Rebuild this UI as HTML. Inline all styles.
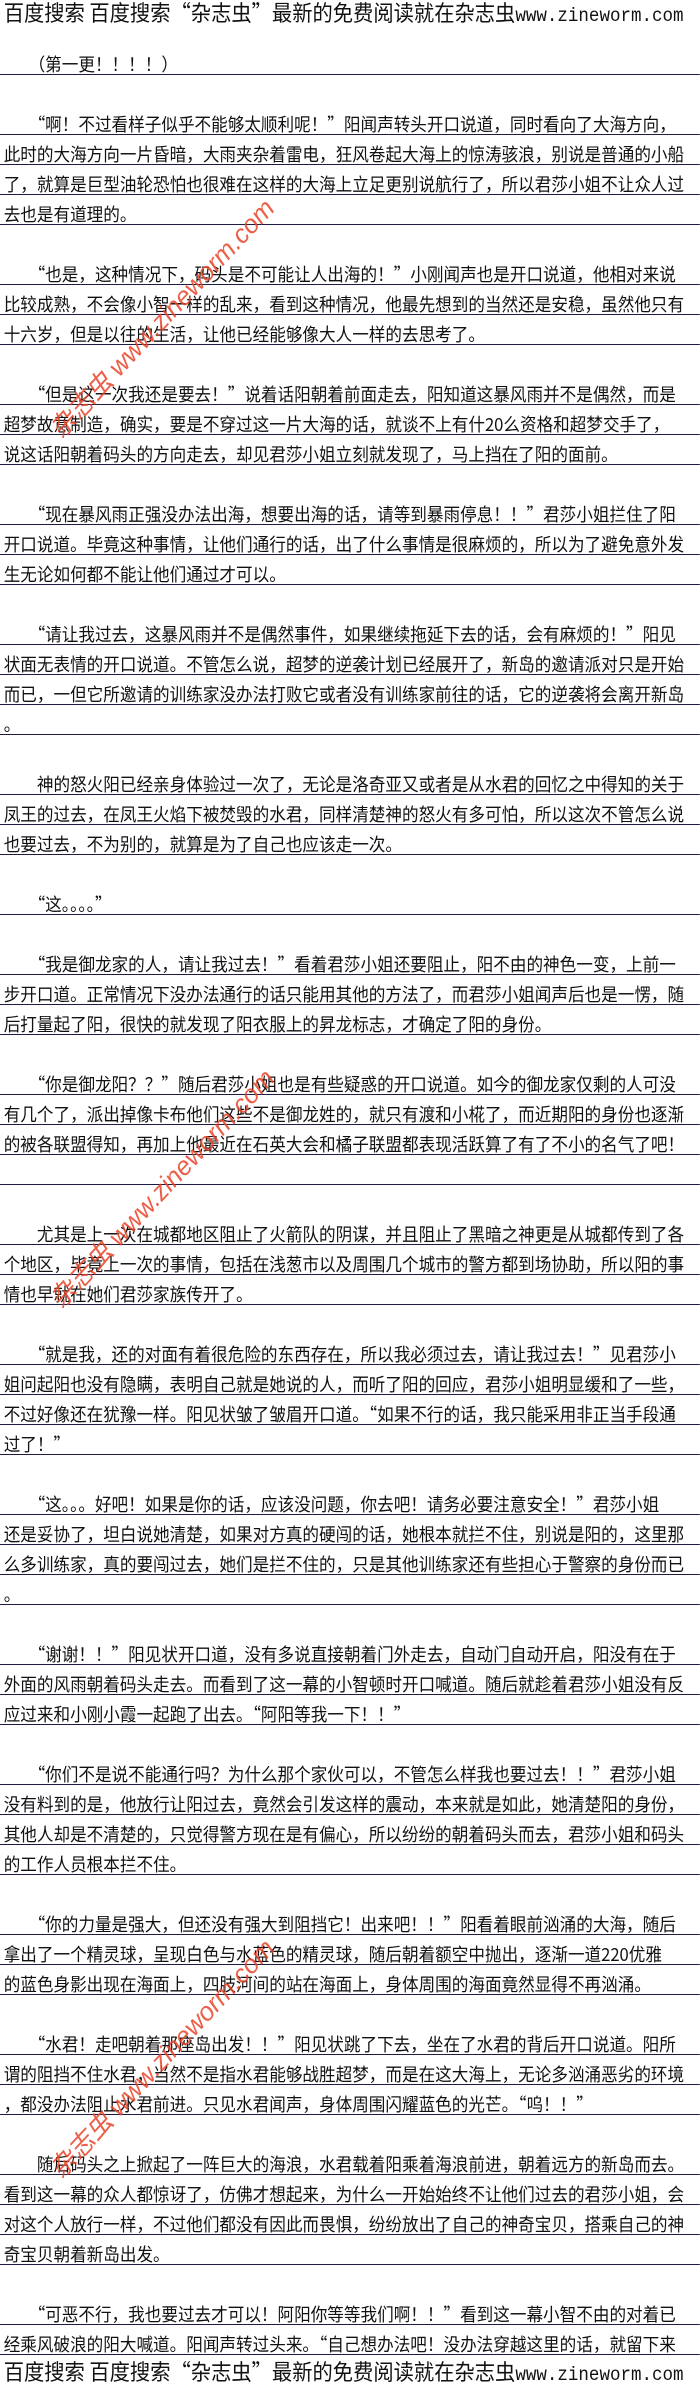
<!DOCTYPE html>
<html><head><meta charset="utf-8">
<style>
html,body{margin:0;padding:0;background:#fff;}
body{width:700px;height:2390px;position:relative;overflow:hidden;font-family:"WenQuanYi Zen Hei","Noto Sans CJK SC",sans-serif;color:#111;}
.wrap{position:absolute;left:0;top:0;width:759px;transform:scaleX(0.922);transform-origin:0 0;}
.hdr{position:absolute;left:4px;top:0;height:24px;font-size:22px;line-height:24px;white-space:nowrap;color:#111;}
.hdr span{font-family:"Liberation Mono",monospace;font-size:19px;}
.body{position:absolute;left:0;top:45px;width:759px;}
.r{height:30px;box-sizing:border-box;border-bottom:1px solid #1c1c44;font-size:18px;line-height:20px;padding-top:9px;padding-left:4px;white-space:nowrap;}
.b{height:30px;}
.ft{top:2359px;}
.wm{position:absolute;color:#e8452a;font-size:26px;font-style:italic;white-space:nowrap;transform:rotate(-47deg);transform-origin:0 0;opacity:.85;font-family:"Liberation Sans","Noto Sans CJK SC",sans-serif;}
</style></head><body>
<div class="wrap">
<div class="hdr">百度搜索 百度搜索“杂志虫”最新的免费阅读就在杂志虫<span>www.zineworm.com</span></div>
<div class="body">
<div class="r">　　（第一更！！！！）</div>
<div class="b"></div>
<div class="r">　　“啊！不过看样子似乎不能够太顺利呢！”阳闻声转头开口说道，同时看向了大海方向，</div>
<div class="r">此时的大海方向一片昏暗，大雨夹杂着雷电，狂风卷起大海上的惊涛骇浪，别说是普通的小船</div>
<div class="r">了，就算是巨型油轮恐怕也很难在这样的大海上立足更别说航行了，所以君莎小姐不让众人过</div>
<div class="r">去也是有道理的。</div>
<div class="b"></div>
<div class="r">　　“也是，这种情况下，码头是不可能让人出海的！”小刚闻声也是开口说道，他相对来说</div>
<div class="r">比较成熟，不会像小智一样的乱来，看到这种情况，他最先想到的当然还是安稳，虽然他只有</div>
<div class="r">十六岁，但是以往的生活，让他已经能够像大人一样的去思考了。</div>
<div class="b"></div>
<div class="r">　　“但是这一次我还是要去！”说着话阳朝着前面走去，阳知道这暴风雨并不是偶然，而是</div>
<div class="r">超梦故意制造，确实，要是不穿过这一片大海的话，就谈不上有什20么资格和超梦交手了，</div>
<div class="r">说这话阳朝着码头的方向走去，却见君莎小姐立刻就发现了，马上挡在了阳的面前。</div>
<div class="b"></div>
<div class="r">　　“现在暴风雨正强没办法出海，想要出海的话，请等到暴雨停息！！”君莎小姐拦住了阳</div>
<div class="r">开口说道。毕竟这种事情，让他们通行的话，出了什么事情是很麻烦的，所以为了避免意外发</div>
<div class="r">生无论如何都不能让他们通过才可以。</div>
<div class="b"></div>
<div class="r">　　“请让我过去，这暴风雨并不是偶然事件，如果继续拖延下去的话，会有麻烦的！”阳见</div>
<div class="r">状面无表情的开口说道。不管怎么说，超梦的逆袭计划已经展开了，新岛的邀请派对只是开始</div>
<div class="r">而已，一但它所邀请的训练家没办法打败它或者没有训练家前往的话，它的逆袭将会离开新岛</div>
<div class="r">。</div>
<div class="b"></div>
<div class="r">　　神的怒火阳已经亲身体验过一次了，无论是洛奇亚又或者是从水君的回忆之中得知的关于</div>
<div class="r">凤王的过去，在凤王火焰下被焚毁的水君，同样清楚神的怒火有多可怕，所以这次不管怎么说</div>
<div class="r">也要过去，不为别的，就算是为了自己也应该走一次。</div>
<div class="b"></div>
<div class="r">　　“这。。。。”</div>
<div class="b"></div>
<div class="r">　　“我是御龙家的人，请让我过去！”看着君莎小姐还要阻止，阳不由的神色一变，上前一</div>
<div class="r">步开口道。正常情况下没办法通行的话只能用其他的方法了，而君莎小姐闻声后也是一愣，随</div>
<div class="r">后打量起了阳，很快的就发现了阳衣服上的昇龙标志，才确定了阳的身份。</div>
<div class="b"></div>
<div class="r">　　“你是御龙阳？？”随后君莎小姐也是有些疑惑的开口说道。如今的御龙家仅剩的人可没</div>
<div class="r">有几个了，派出掉像卡布他们这些不是御龙姓的，就只有渡和小椛了，而近期阳的身份也逐渐</div>
<div class="r">的被各联盟得知，再加上他最近在石英大会和橘子联盟都表现活跃算了有了不小的名气了吧！</div>
<div class="r"></div>
<div class="b"></div>
<div class="r">　　尤其是上一次在城都地区阻止了火箭队的阴谋，并且阻止了黑暗之神更是从城都传到了各</div>
<div class="r">个地区，毕竟上一次的事情，包括在浅葱市以及周围几个城市的警方都到场协助，所以阳的事</div>
<div class="r">情也早就在她们君莎家族传开了。</div>
<div class="b"></div>
<div class="r">　　“就是我，还的对面有着很危险的东西存在，所以我必须过去，请让我过去！”见君莎小</div>
<div class="r">姐问起阳也没有隐瞒，表明自己就是她说的人，而听了阳的回应，君莎小姐明显缓和了一些，</div>
<div class="r">不过好像还在犹豫一样。阳见状皱了皱眉开口道。“如果不行的话，我只能采用非正当手段通</div>
<div class="r">过了！”</div>
<div class="b"></div>
<div class="r">　　“这。。。好吧！如果是你的话，应该没问题，你去吧！请务必要注意安全！”君莎小姐</div>
<div class="r">还是妥协了，坦白说她清楚，如果对方真的硬闯的话，她根本就拦不住，别说是阳的，这里那</div>
<div class="r">么多训练家，真的要闯过去，她们是拦不住的，只是其他训练家还有些担心于警察的身份而已</div>
<div class="r">。</div>
<div class="b"></div>
<div class="r">　　“谢谢！！”阳见状开口道，没有多说直接朝着门外走去，自动门自动开启，阳没有在于</div>
<div class="r">外面的风雨朝着码头走去。而看到了这一幕的小智顿时开口喊道。随后就趁着君莎小姐没有反</div>
<div class="r">应过来和小刚小霞一起跑了出去。“阿阳等我一下！！”</div>
<div class="b"></div>
<div class="r">　　“你们不是说不能通行吗？为什么那个家伙可以，不管怎么样我也要过去！！”君莎小姐</div>
<div class="r">没有料到的是，他放行让阳过去，竟然会引发这样的震动，本来就是如此，她清楚阳的身份，</div>
<div class="r">其他人却是不清楚的，只觉得警方现在是有偏心，所以纷纷的朝着码头而去，君莎小姐和码头</div>
<div class="r">的工作人员根本拦不住。</div>
<div class="b"></div>
<div class="r">　　“你的力量是强大，但还没有强大到阻挡它！出来吧！！”阳看着眼前汹涌的大海，随后</div>
<div class="r">拿出了一个精灵球，呈现白色与水蓝色的精灵球，随后朝着额空中抛出，逐渐一道220优雅</div>
<div class="r">的蓝色身影出现在海面上，四肢河间的站在海面上，身体周围的海面竟然显得不再汹涌。</div>
<div class="b"></div>
<div class="r">　　“水君！走吧朝着那座岛出发！！”阳见状跳了下去，坐在了水君的背后开口说道。阳所</div>
<div class="r">谓的阻挡不住水君，当然不是指水君能够战胜超梦，而是在这大海上，无论多汹涌恶劣的环境</div>
<div class="r">，都没办法阻止水君前进。只见水君闻声，身体周围闪耀蓝色的光芒。“呜！！”</div>
<div class="b"></div>
<div class="r">　　随后码头之上掀起了一阵巨大的海浪，水君载着阳乘着海浪前进，朝着远方的新岛而去。</div>
<div class="r">看到这一幕的众人都惊讶了，仿佛才想起来，为什么一开始始终不让他们过去的君莎小姐，会</div>
<div class="r">对这个人放行一样，不过他们都没有因此而畏惧，纷纷放出了自己的神奇宝贝，搭乘自己的神</div>
<div class="r">奇宝贝朝着新岛出发。</div>
<div class="b"></div>
<div class="r">　　“可恶不行，我也要过去才可以！阿阳你等等我们啊！！”看到这一幕小智不由的对着已</div>
<div class="r">经乘风破浪的阳大喊道。阳闻声转过头来。“自己想办法吧！没办法穿越这里的话，就留下来</div>
</div>
<div class="hdr ft">百度搜索 百度搜索“杂志虫”最新的免费阅读就在杂志虫<span>www.zineworm.com</span></div>
</div>
<div class="wm" style="left:40px;top:420px;">杂志虫 www.zineworm.com</div>
<div class="wm" style="left:40px;top:1290px;">杂志虫 www.zineworm.com</div>
<div class="wm" style="left:40px;top:2160px;">杂志虫 www.zineworm.com</div>
</body></html>
